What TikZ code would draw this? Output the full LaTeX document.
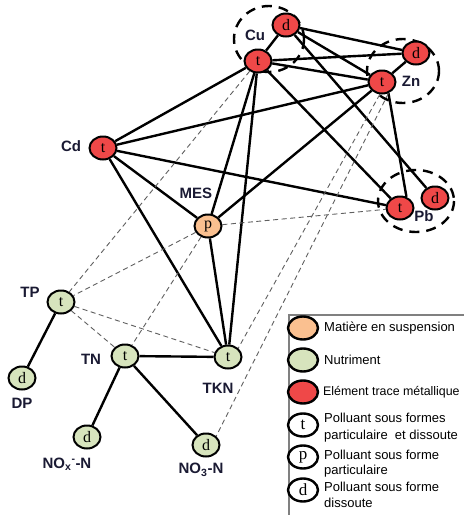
\documentclass[tikz,border=0pt]{standalone}
\usepackage{fontspec}
\setmainfont{Liberation Serif}
\setsansfont{Liberation Sans}
\usetikzlibrary{shapes.geometric}
\definecolor{metal}{HTML}{EF4848}
\definecolor{nutri}{HTML}{D7E4BD}
\definecolor{mescol}{HTML}{FAC090}
\definecolor{lblcol}{HTML}{1A1A33}
\definecolor{dashcol}{HTML}{606060}
\definecolor{legline}{HTML}{808080}
\pgfdeclarelayer{bg}
\pgfsetlayers{bg,main}
\tikzset{
  pn/.style={ellipse, draw=black, line width=2pt, minimum width=27pt, minimum height=23pt,
    inner sep=0pt, font=\fontsize{16}{18}\selectfont\rmfamily},
  metalnode/.style={pn, fill=metal},
  nutrinode/.style={pn, fill=nutri},
  mesnode/.style={pn, fill=mescol},
  lbl/.style={font=\fontsize{15}{17}\selectfont\sffamily\bfseries, text=lblcol, inner sep=0pt},
  link/.style={line width=2.4pt, black},
  dlink/.style={line width=0.9pt, dashcol, dash pattern=on 5pt off 3.5pt},
  grp/.style={line width=2.4pt, black, dash pattern=on 10pt off 7pt},
  legnode/.style={ellipse, draw=black, line width=2.4pt, minimum width=30pt, minimum height=23pt,
    inner sep=0pt, font=\fontsize{17}{19}\selectfont\rmfamily},
  legtext/.style={anchor=west, inner sep=0pt, font=\fontsize{13}{15}\selectfont\sffamily, text=black}
}
\begin{document}
\begin{tikzpicture}[x=1pt,y=-1pt]
\useasboundingbox (0,0) rectangle (464,515);

% nodes
\node[metalnode] (cud) at (286,25) {d};
\node[metalnode] (cut) at (258,61) {t};
\node[metalnode] (znd) at (416,53) {d};
\node[metalnode] (znt) at (382,82) {t};
\node[metalnode] (cd) at (103,148) {t};
\node[mesnode] (mes) at (208,226) {p};
\node[metalnode] (pbt) at (400,208) {t};
\node[metalnode] (pbd) at (435,198) {d};
\node[nutrinode] (tp) at (61,302) {t};
\node[nutrinode] (tn) at (125,356) {t};
\node[nutrinode] (tkn) at (228,357) {t};
\node[nutrinode] (dp) at (22,378) {d};
\node[nutrinode] (nox) at (87,437) {d};
\node[nutrinode] (no3) at (206,445) {d};

% labels
\node[lbl] (lcu) at (255,35) {Cu};
\node[lbl] (lzn) at (411,81) {Zn};
\node[lbl] (lcd) at (71,146) {Cd};
\node[lbl] (lmes) at (196,193) {MES};
\node[lbl] (lpb) at (424,216) {Pb};
\node[lbl] (ltp) at (30,292) {TP};
\node[lbl] (ltn) at (91,359) {TN};
\node[lbl] (ltkn) at (218,388) {TKN};
\node[lbl] (ldp) at (22,403) {DP};
\node[lbl] (lnox) at (67,464) {NO\textsubscript{x}\textsuperscript{-}-N};
\node[lbl] (lno3) at (201,470) {NO\textsubscript{3}-N};

\begin{pgfonlayer}{bg}
  \fill[white] (0,0) rectangle (464,515);
  \foreach \a/\b in {cud/cut, cud/znd, cud/znt, cud/pbd, cut/znd, cut/znt, cut/cd, cut/mes,
      cut/tkn, cut/pbt, znt/znd, znt/cd, znt/mes, cd/mes, cd/tkn, cd/pbt, mes/tkn, tn/tkn,
      tp/dp, tn/nox, tn/no3}
    \draw[link] (\a) -- (\b);
  \draw[link] (znt.-60) -- (pbt.60);
  \foreach \a/\b in {cut/tp, mes/tp, mes/tn, mes/pbt, tp/tn, tp/tkn}
    \draw[dlink] (\a) -- (\b);
  \draw[dlink] (znt.-100) -- (tkn.north east);
  \draw[dlink] (znt.-60) -- (no3.north east);
  % group ellipses
  \draw[grp] (269,39) ellipse [x radius=35, y radius=33];
  \draw[grp] (403,71) ellipse [x radius=36, y radius=32];
  \draw[grp] (416,201) ellipse [x radius=38, y radius=31];
\end{pgfonlayer}

% legend
\draw[legline, line width=1.2pt] (470,315) -- (289,315) -- (289,520);
\node[legnode, fill=mescol] (k1) at (303,328) {};
\node[legnode, fill=nutri] (k2) at (303,360) {};
\node[legnode, fill=metal] (k3) at (303,392) {};
\node[legnode, fill=white] (k4) at (303,425) {t};
\node[legnode, fill=white] (k5) at (303,457) {p};
\node[legnode, fill=white] (k6) at (303,490) {d};
\node[legtext] (t1) at (324,328) {Matière en suspension};
\node[legtext] (t2) at (324,360) {Nutriment};
\node[legtext, font=\fontsize{12.4}{15}\selectfont\sffamily] (t3) at (323,392) {Elément trace métallique};
\node[legtext] (t4a) at (324,418) {Polluant sous formes};
\node[legtext] (t4b) at (324,436) {particulaire\ \ et dissoute};
\node[legtext] (t5a) at (324,455) {Polluant sous forme};
\node[legtext] (t5b) at (324,471) {particulaire};
\node[legtext] (t6a) at (324,487) {Polluant sous forme};
\node[legtext] (t6b) at (324,503) {dissoute};
\end{tikzpicture}
\end{document}
